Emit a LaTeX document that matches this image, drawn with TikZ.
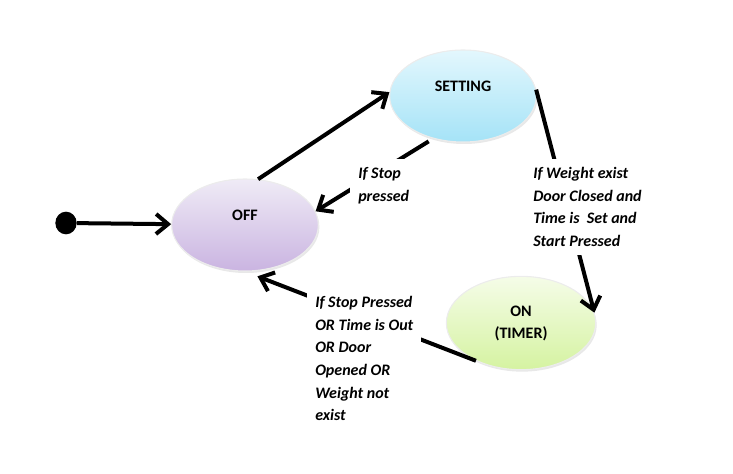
\documentclass[tikz,border=0pt]{standalone}
\usepackage{fontspec}
\setmainfont{Carlito}
\usetikzlibrary{arrows.meta,shapes.geometric,shadows}

\definecolor{settop}{HTML}{E3F7FD}
\definecolor{setbot}{HTML}{A5E3F7}
\definecolor{offtop}{HTML}{EFEBF6}
\definecolor{offbot}{HTML}{CAB4E1}
\definecolor{ontop}{HTML}{F5FCE8}
\definecolor{onbot}{HTML}{D5F3A1}

\begin{document}
\begin{tikzpicture}[x=0.75pt,y=-0.75pt,
	state/.style={ellipse, draw=gray!15, line width=0.8pt, inner sep=0pt,
		minimum width=110pt, minimum height=69pt,
		drop shadow={shadow xshift=0.8pt, shadow yshift=-1.5pt, opacity=0.18}},
	statetext/.style={font=\bfseries\fontsize{12}{16.5}\selectfont, align=center},
	trans/.style={line width=3pt, -{Straight Barb[length=9pt,width=15pt,line width=3pt]}},
	cond/.style={fill=white, inner sep=6pt, align=left,
		font=\bfseries\itshape\fontsize{12}{17}\selectfont}]

	\useasboundingbox (0,0) rectangle (733,474);

	\node[ellipse, fill=black, minimum width=16pt, minimum height=17pt, inner sep=0pt] (init) at (66,223) {};
	\node[state, top color=offtop, bottom color=offbot,
		label={[statetext, yshift=7.5pt]center:OFF}] (off) at (245,225) {};
	\node[state, top color=settop, bottom color=setbot,
		label={[statetext, yshift=7pt]center:SETTING}] (set) at (463,96) {};
	\node[state, top color=ontop, bottom color=onbot, minimum width=112pt, minimum height=70pt,
		label={[statetext]center:ON\\(TIMER)}] (on) at (521,323) {};

	\draw[trans] (init) -- (off);
	\draw[trans] (off.74) -- (set.177);
	\draw[trans, shorten <=4pt] (set.235) -- (off.11);
	\draw[trans] (set.5) -- (on.8);
	\draw[trans, shorten >=10pt] (on.220) -- (off.south);

	\node[cond, anchor=north west] (stop) at (350,159) {If Stop\\pressed};
	\node[cond, anchor=north west] (start) at (525,159) {If Weight exist\\Door Closed and\\Time is\ \ Set and\\Start Pressed};
	\node[cond, anchor=north west] (reset) at (307,288) {If Stop Pressed\\OR Time is Out\\OR Door\\Opened OR\\Weight not\\exist};
\end{tikzpicture}
\end{document}
